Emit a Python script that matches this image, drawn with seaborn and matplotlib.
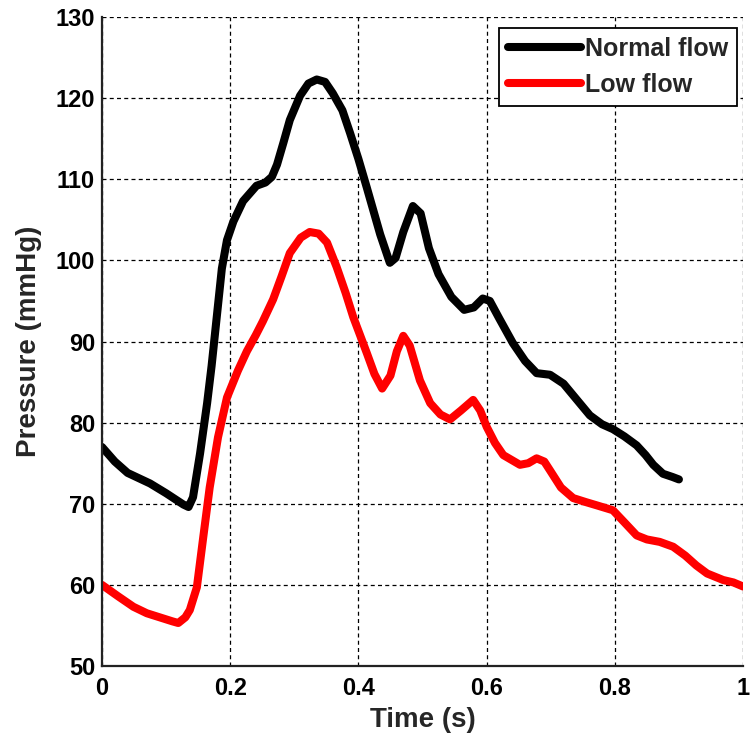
import matplotlib
matplotlib.use("Agg")
import matplotlib.pyplot as plt
import seaborn as sns
import pandas as pd
from matplotlib.ticker import FuncFormatter

# ---- data ----
series_names = ["Normal flow", "Low flow"]

time_normal = [0, 0.02, 0.04, 0.075, 0.10, 0.127, 0.135, 0.142, 0.153, 0.164, 0.171,
               0.179, 0.187, 0.195, 0.205, 0.22, 0.241, 0.255, 0.265, 0.273, 0.283,
               0.293, 0.309, 0.322, 0.335, 0.348, 0.36, 0.375, 0.387, 0.40, 0.413,
               0.434, 0.449, 0.458, 0.47, 0.485, 0.497, 0.51, 0.525, 0.545, 0.565,
               0.58, 0.594, 0.605, 0.62, 0.641, 0.66, 0.678, 0.699, 0.72, 0.741,
               0.761, 0.78, 0.797, 0.815, 0.834, 0.848, 0.86, 0.875, 0.89, 0.9]
p_normal = [77, 75.2, 73.8, 72.5, 71.3, 69.9, 69.6, 70.8, 76.2, 82.4, 87,
            93, 99, 102.5, 104.8, 107.3, 109.2, 109.6, 110.3, 111.8, 114.5,
            117.3, 120.3, 121.8, 122.3, 122, 120.6, 118.5, 115.7, 112.5, 109,
            103.2, 99.7, 100.3, 103.5, 106.7, 105.8, 101.5, 98.3, 95.5, 93.9,
            94.2, 95.3, 95, 92.8, 89.8, 87.6, 86.1, 85.9, 84.8, 82.8,
            80.9, 79.8, 79.2, 78.3, 77.2, 76, 74.8, 73.7, 73.3, 73.0]

time_low = [0, 0.025, 0.049, 0.07, 0.09, 0.11, 0.119, 0.13, 0.137, 0.148, 0.158,
            0.168, 0.181, 0.195, 0.212, 0.226, 0.24, 0.251, 0.267, 0.28, 0.293,
            0.31, 0.324, 0.338, 0.351, 0.366, 0.38, 0.392, 0.413, 0.425, 0.437,
            0.45, 0.46, 0.47, 0.48, 0.496, 0.512, 0.528, 0.543, 0.56, 0.579,
            0.59, 0.6, 0.613, 0.626, 0.652, 0.665, 0.678, 0.69, 0.699, 0.716,
            0.735, 0.755, 0.772, 0.797, 0.815, 0.834, 0.85, 0.87, 0.891, 0.91,
            0.927, 0.944, 0.969, 0.985, 1.0]
p_low = [60, 58.6, 57.3, 56.5, 56, 55.5, 55.3, 56, 56.9, 59.7, 65.9,
         72, 78.2, 83.1, 86.4, 88.8, 90.8, 92.5, 95.2, 98, 100.9,
         102.8, 103.5, 103.3, 102.2, 99.2, 96, 93, 88.6, 86, 84.2,
         85.8, 88.8, 90.7, 89.5, 85.2, 82.4, 81, 80.4, 81.5, 82.8,
         81.5, 79.5, 77.5, 76, 74.8, 75, 75.6, 75.2, 74.1, 72,
         70.7, 70.2, 69.8, 69.2, 67.7, 66.1, 65.6, 65.3, 64.7, 63.6,
         62.4, 61.4, 60.6, 60.3, 59.8]

x_ticks = [0, 0.2, 0.4, 0.6, 0.8, 1.0]
y_ticks = [50, 60, 70, 80, 90, 100, 110, 120, 130]

df = pd.concat([
    pd.DataFrame({"Time": time_normal, "Pressure": p_normal, "Series": series_names[0]}),
    pd.DataFrame({"Time": time_low, "Pressure": p_low, "Series": series_names[1]}),
], ignore_index=True)

# ---- style ----
sns.set_style("white")
plt.rcParams["font.family"] = ["Liberation Sans", "DejaVu Sans"]
plt.rcParams["font.weight"] = "bold"

fig = plt.figure(figsize=(7.51, 7.40), dpi=100)
ax = fig.add_axes([0.1358, 0.1, 0.9894 - 0.1358, 0.977 - 0.1])

sns.lineplot(data=df, x="Time", y="Pressure", hue="Series", sort=False,
             palette={"Normal flow": "#000000", "Low flow": "#ff0000"},
             linewidth=5.8, ax=ax, legend=True, estimator=None,
             solid_capstyle="round", solid_joinstyle="round")

ax.set_xlim(0, 1)
ax.set_ylim(50, 130)
ax.set_xticks(x_ticks)
ax.set_yticks(y_ticks)
ax.xaxis.set_major_formatter(FuncFormatter(lambda v, p: f"{v:g}"))
ax.grid(True, color="black", linestyle=(0, (3.2, 2.6)), linewidth=0.9)
ax.set_axisbelow(True)

for s in ["top", "right"]:
    ax.spines[s].set_visible(False)
for s in ["left", "bottom"]:
    ax.spines[s].set_color("#222222")
    ax.spines[s].set_linewidth(1.6)

ax.tick_params(axis="both", direction="in", length=5, width=1.2, colors="black",
               labelsize=17)
ax.tick_params(axis="x", pad=8)
ax.tick_params(axis="y", pad=5)
for lab in ax.get_xticklabels() + ax.get_yticklabels():
    lab.set_fontweight("bold")

ax.set_xlabel("Time (s)", fontsize=20, fontweight="bold", labelpad=5)
ax.set_ylabel("Pressure (mmHg)", fontsize=20, fontweight="bold", labelpad=10)

handles, labels = ax.get_legend_handles_labels()
leg = ax.legend(handles, labels, loc="upper right",
                bbox_to_anchor=(0.9906, 0.983), borderaxespad=0,
                prop={"size": 18, "weight": "bold"}, handlelength=2.9,
                handletextpad=0.18, labelspacing=0.48, borderpad=0.35,
                frameon=True, fancybox=False, framealpha=1, edgecolor="black")
leg.get_frame().set_linewidth(1.3)
for line in leg.get_lines():
    line.set_linewidth(5.8)

fig.savefig("out.png", dpi=100)
